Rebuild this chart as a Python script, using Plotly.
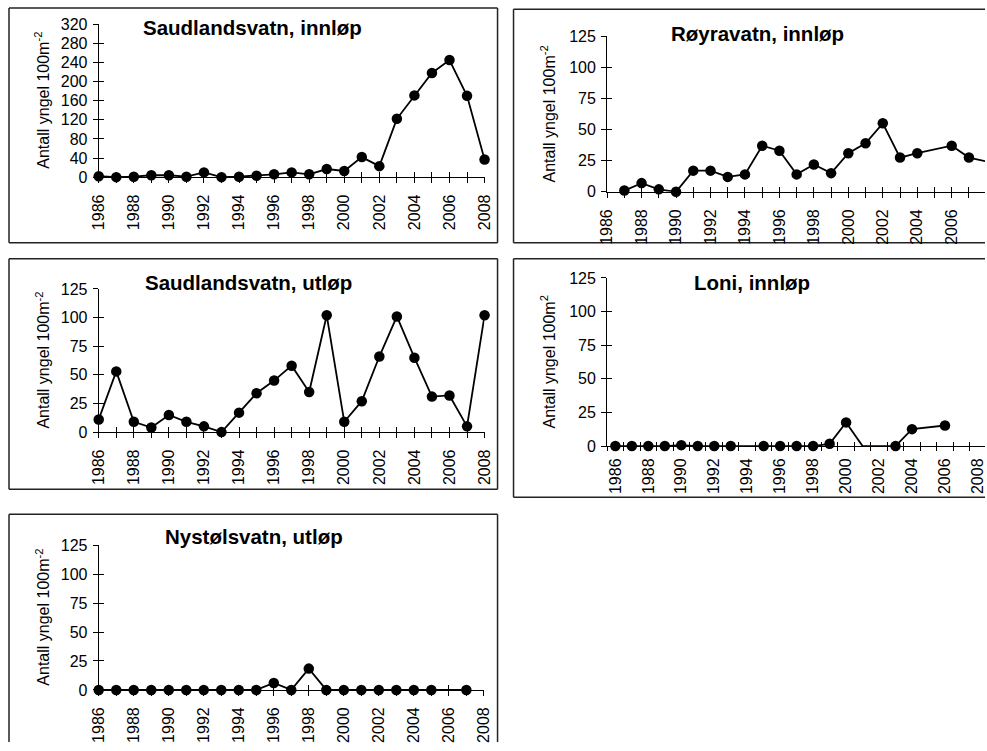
import plotly.graph_objects as go

# Yngeltetthet (antall yngel per 100 m2) ved fem lokaliteter, 1986-2008
years = list(range(1986, 2009))

saud_inn_years = years
saud_inn_vals = [2, 0, 1, 4, 4, 1, 10, 0, 1, 3, 6, 10, 6, 17, 13, 42, 23, 122, 171, 218, 245, 170, 37]

royr_years = [1987, 1988, 1989, 1990, 1991, 1992, 1993, 1994, 1995, 1996, 1997, 1998,
              1999, 2000, 2001, 2002, 2003, 2004, 2006, 2007, 2008]
royr_vals = [1, 7, 2, 0, 17, 17, 12, 14, 37, 33, 14, 22, 15, 31, 39, 55, 27.5, 31, 37, 27.5, 24.5]

saud_utl_years = years
saud_utl_vals = [11, 53, 9, 4, 15, 9, 5, 0, 17, 34, 45, 58, 35, 102, 9, 27, 66, 101, 65, 31, 32, 5, 102]

loni_years = [1986, 1987, 1988, 1989, 1990, 1991, 1992, 1993, 1995, 1996, 1997, 1998,
              1999, 2000, 2001, 2002, 2003, 2004, 2006]
loni_vals = [0, 0, 0, 0, 0.7, 0, 0, 0, 0, 0, 0, 0, 1.7, 17.6, 0, 0, 0, 12.6, 15.3]
loni_unmarked = [2001, 2002]

nyst_years = list(range(1986, 2006)) + [2007]
nyst_vals = [0, 0, 0, 0, 0, 0, 0, 0, 0, 0, 6, 0, 18.4, 0, 0, 0, 0, 0, 0, 0, 0]

VIEW_W, VIEW_H = 987, 751
BODY = 8                          # default body margin around the figure
SX = VIEW_W / (VIEW_W + 2 * BODY)  # page-to-view scale
SY = VIEW_H / (VIEW_H + 2 * BODY)
W, H = VIEW_W + 6, VIEW_H
FONT = "Liberation Sans, Arial, sans-serif"
YT = "Antall yngel 100m<sup>-2</sup>"

# positions below are view pixels
panels = [
    dict(title="Saudlandsvatn, innløp", xs=saud_inn_years, ys=saud_inn_vals,
         xd=(97.7, 484), yd=(24, 177.3), xr=(1986, 2008), yr=(0, 320), dt=40,
         ytitle=YT, tpos=(252, 27), ytx=41, box=(5, 7, 497, 243)),
    dict(title="Røyravatn, innløp", xs=royr_years, ys=royr_vals,
         xd=(606.7, 986.2), yd=(36, 192), xr=(1986, 2008), yr=(0, 125), dt=25,
         ytitle=YT, tpos=(757, 33), ytx=548, box=(513, 9, 1010, 243)),
    dict(title="Saudlandsvatn, utløp", xs=saud_utl_years, ys=saud_utl_vals,
         xd=(97.7, 484), yd=(289.3, 432.7), xr=(1986, 2008), yr=(0, 125), dt=25,
         ytitle=YT, tpos=(248, 283), ytx=41, box=(6, 259, 497, 490)),
    dict(title="Loni, innløp", xs=loni_years, ys=loni_vals,
         xd=(606.7, 986.2), yd=(278.3, 446.7), xr=(1985.5, 2008.5), yr=(0, 125), dt=25,
         ytitle="Antall yngel 100m<sup>2</sup>", tpos=(752, 283), ytx=548,
         box=(513, 259, 1010, 498), between=True, unmarked=loni_unmarked),
    dict(title="Nystølsvatn, utløp", xs=nyst_years, ys=nyst_vals,
         xd=(97.7, 483.3), yd=(546, 691), xr=(1986, 2008), yr=(0, 125), dt=25,
         ytitle=YT, tpos=(253, 537), ytx=41, box=(7, 515, 497, 770)),
]

fig = go.Figure()
layout = dict(width=W, height=H, margin=dict(l=0, r=0, t=0, b=0),
              paper_bgcolor="white", plot_bgcolor="rgba(0,0,0,0)",
              showlegend=False, font=dict(family=FONT, color="black"))
shapes, annotations = [], []
n = len(panels)


def px_x(v):
    return (v / SX - BODY) / W


def px_y(v):
    return 1 - (v / SY - BODY) / H


def clamp(v, lo=0.0, hi=1.0):
    return max(lo, min(hi, v))


def frame(bx0, by0, bx1, by1):
    """Panel frame; sides that fall off the figure are left out."""
    fx0, fx1 = clamp(px_x(bx0)), clamp(px_x(bx1))
    fy0, fy1 = clamp(px_y(by0)), clamp(px_y(by1))
    style = dict(type="line", xref="paper", yref="paper",
                 line=dict(color="#222222", width=1.5), layer="below")
    sides = [dict(style, x0=fx0, x1=fx1, y0=fy0, y1=fy0),
             dict(style, x0=fx0, x1=fx0, y0=fy0, y1=fy1)]
    if px_y(by1) >= 0:
        sides.append(dict(style, x0=fx0, x1=fx1, y0=fy1, y1=fy1))
    if px_x(bx1) <= 1:
        sides.append(dict(style, x0=fx1, x1=fx1, y0=fy0, y1=fy1))
    return sides


TICKLEN = 5
TICKFONT = dict(family=FONT, size=16, color="black")

for i, p in enumerate(panels):
    k = i + 1
    ko = k + n  # overlay axes carrying the inner half of each cross tick
    xname, yname = f"x{k}", f"y{k}"
    x0, x1 = px_x(p["xd"][0]), px_x(p["xd"][1])
    r0, r1 = p["xr"]
    if x1 > 1.0:
        # axis runs past the right edge: trim domain and range together
        r1 = r0 + (r1 - r0) * (1.0 - x0) / (x1 - x0)
        x1 = 1.0
    xrange = [r0, r1]
    xdom = [x0, x1]
    ydom = [px_y(p["yd"][1]), px_y(p["yd"][0])]
    ytv = list(range(p["yr"][0], p["yr"][1] + 1, p["dt"]))
    even_years = [y for y in years if y % 2 == 0]

    base_x = dict(domain=xdom, range=xrange, anchor=yname, showgrid=False,
                  zeroline=False, showline=True, linecolor="black", linewidth=1,
                  tickfont=TICKFONT, tickangle=-90, fixedrange=True,
                  ticklabelstandoff=5)
    if p.get("between"):
        halves = [y + 0.5 for y in range(1985, 2009)]
        xax = dict(base_x, tickmode="array", tickvals=even_years,
                   ticktext=[str(y) for y in even_years], ticks="",
                   minor=dict(tickmode="array", tickvals=halves, ticks="outside",
                              ticklen=TICKLEN - 1, tickcolor="black", tickwidth=1))
        xin_vals = halves
        xin_len = TICKLEN - 1
    else:
        xax = dict(base_x, tickmode="array", tickvals=years,
                   ticktext=[str(y) if y % 2 == 0 else "" for y in years],
                   ticks="outside", ticklen=TICKLEN, tickcolor="black", tickwidth=1)
        xin_vals = years
        xin_len = TICKLEN
    yax = dict(domain=ydom, range=list(p["yr"]), anchor=xname, showgrid=False,
               zeroline=False, showline=True, linecolor="black", linewidth=1,
               tickmode="array", tickvals=ytv, ticks="outside", ticklen=TICKLEN,
               tickcolor="black", tickwidth=1, tickfont=TICKFONT, fixedrange=True,
               ticklabelstandoff=2)
    layout[f"xaxis{k}"] = xax
    layout[f"yaxis{k}"] = yax
    layout[f"xaxis{ko}"] = dict(overlaying=xname, anchor=yname, range=xrange,
                                showgrid=False, zeroline=False, showline=False,
                                tickmode="array", tickvals=xin_vals, ticks="inside",
                                ticklen=xin_len, tickcolor="black", tickwidth=1,
                                showticklabels=False, fixedrange=True)
    layout[f"yaxis{ko}"] = dict(overlaying=yname, anchor=xname, range=list(p["yr"]),
                                showgrid=False, zeroline=False, showline=False,
                                tickmode="array", tickvals=ytv, ticks="inside",
                                ticklen=TICKLEN, tickcolor="black", tickwidth=1,
                                showticklabels=False, fixedrange=True, side="left")

    # data line and markers
    fig.add_trace(go.Scatter(x=p["xs"], y=p["ys"], mode="lines",
                             line=dict(color="black", width=1.8),
                             xaxis=xname, yaxis=yname, cliponaxis=False,
                             hoverinfo="skip"))
    skip = set(p.get("unmarked", []))
    mx = [x for x in p["xs"] if x not in skip]
    my = [y for x, y in zip(p["xs"], p["ys"]) if x not in skip]
    fig.add_trace(go.Scatter(x=mx, y=my, mode="markers",
                             marker=dict(color="black", size=10.5, symbol="circle"),
                             xaxis=xname, yaxis=yname, cliponaxis=False))
    # invisible traces so the overlay axes are drawn
    fig.add_trace(go.Scatter(x=[r0], y=[0], mode="markers", opacity=0,
                             xaxis=f"x{ko}", yaxis=yname, hoverinfo="skip"))
    fig.add_trace(go.Scatter(x=[r0], y=[0], mode="markers", opacity=0,
                             xaxis=xname, yaxis=f"y{ko}", hoverinfo="skip"))

    shapes.extend(frame(*p["box"]))
    annotations.append(dict(text=f"<b>{p['title']}</b>", xref="paper", yref="paper",
                            x=px_x(p["tpos"][0]), y=px_y(p["tpos"][1]),
                            xanchor="center", yanchor="middle", showarrow=False,
                            font=dict(family=FONT, size=20.5, color="black")))
    annotations.append(dict(text=p["ytitle"], xref="paper", yref="paper",
                            x=px_x(p["ytx"]), y=px_y((p["yd"][0] + p["yd"][1]) / 2),
                            xanchor="center", yanchor="middle", textangle=-90,
                            showarrow=False,
                            font=dict(family=FONT, size=16, color="black")))

layout["shapes"] = shapes
layout["annotations"] = annotations
fig.update_layout(**layout)
fig.write_html("out.html")
